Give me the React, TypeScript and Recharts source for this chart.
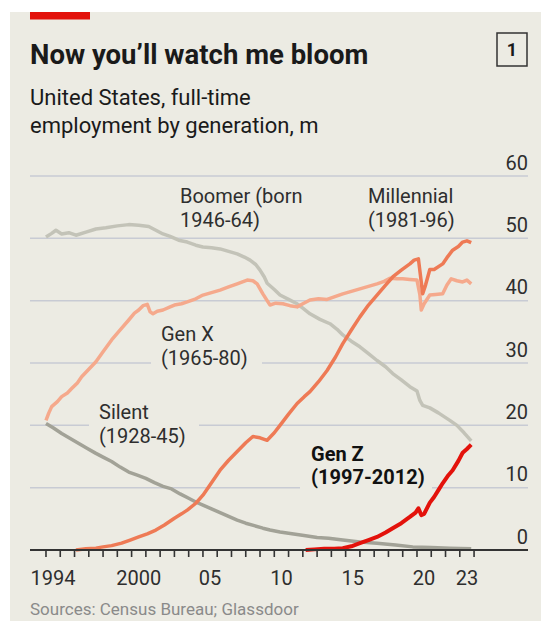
import React from "react";
import { LineChart, Line, XAxis, YAxis, CartesianGrid } from "recharts";

// ---------- data ----------
const boomerYears = [1994.0, 1994.4, 1994.7, 1995.1, 1995.6, 1996.1, 1996.8, 1997.5, 1998.2, 1999.0, 1999.8, 2000.5, 2001.2, 2001.7, 2002.2, 2002.7, 2003.3, 2003.9, 2004.5, 2005.0, 2005.6, 2006.2, 2006.8, 2007.4, 2007.9, 2008.3, 2008.7, 2009.0, 2009.3, 2009.5, 2010.0, 2010.4, 2011.0, 2011.6, 2012.0, 2012.5, 2013.2, 2013.9, 2014.4, 2014.8, 2015.4, 2016.0, 2016.6, 2017.2, 2017.8, 2018.3, 2018.9, 2019.5, 2020.0, 2020.2, 2020.4, 2020.9, 2021.5, 2022.3, 2022.8, 2023.3, 2023.8];
const boomerValues = [50.2, 50.8, 51.3, 50.7, 50.9, 50.5, 51.0, 51.5, 51.7, 52.0, 52.2, 52.1, 51.9, 51.3, 50.7, 50.3, 49.7, 49.4, 48.9, 48.6, 48.5, 48.3, 47.9, 47.5, 47.0, 46.5, 45.8, 44.9, 43.8, 42.8, 41.8, 40.9, 40.2, 39.5, 38.8, 37.9, 37.0, 36.3, 35.4, 34.5, 33.5, 32.6, 31.5, 30.4, 29.4, 28.3, 27.3, 26.2, 25.5, 24.0, 23.2, 22.8, 22.0, 20.8, 20.0, 18.8, 17.5];

const silentYears = [1994.0, 1994.5, 1995.1, 1995.7, 1996.3, 1996.9, 1997.5, 1998.0, 1998.6, 1999.2, 1999.8, 2000.4, 2001.0, 2001.6, 2002.2, 2002.8, 2003.4, 2004.0, 2004.5, 2005.0, 2005.6, 2006.2, 2006.8, 2007.4, 2008.0, 2008.6, 2009.2, 2009.7, 2010.4, 2011.0, 2011.6, 2012.2, 2013.0, 2013.8, 2014.8, 2016.0, 2017.2, 2018.5, 2019.7, 2021.0, 2022.3, 2023.8];
const silentValues = [20.3, 19.6, 18.7, 17.9, 17.1, 16.3, 15.5, 14.9, 14.2, 13.3, 12.5, 12.0, 11.5, 10.8, 10.2, 9.8, 9.0, 8.3, 7.7, 7.2, 6.6, 6.0, 5.4, 4.8, 4.3, 3.9, 3.5, 3.2, 2.9, 2.7, 2.5, 2.3, 2.0, 1.9, 1.6, 1.3, 1.1, 0.8, 0.5, 0.4, 0.3, 0.2];

const genXYears = [1994.0, 1994.2, 1994.4, 1994.8, 1995.1, 1995.5, 1995.8, 1996.2, 1996.5, 1997.0, 1997.5, 1998.0, 1998.6, 1999.2, 1999.8, 2000.2, 2000.5, 2000.8, 2001.1, 2001.3, 2001.5, 2001.8, 2002.2, 2002.7, 2003.0, 2003.5, 2003.9, 2004.5, 2005.0, 2005.6, 2006.2, 2006.8, 2007.4, 2008.1, 2008.5, 2008.8, 2009.0, 2009.2, 2009.5, 2009.7, 2010.1, 2010.6, 2011.1, 2011.6, 2012.0, 2012.5, 2013.1, 2013.7, 2014.2, 2014.8, 2015.4, 2016.0, 2016.6, 2017.2, 2017.7, 2018.1, 2018.6, 2019.0, 2019.5, 2020.0, 2020.2, 2020.3, 2020.5, 2020.9, 2021.3, 2021.8, 2022.1, 2022.4, 2022.8, 2023.2, 2023.5, 2023.8];
const genXValues = [20.8, 22.0, 23.0, 23.8, 24.6, 25.2, 25.9, 26.8, 27.8, 29.0, 30.2, 31.8, 33.7, 35.3, 36.9, 38.0, 38.5, 39.2, 39.4, 38.2, 37.9, 38.3, 38.5, 39.0, 39.3, 39.5, 39.8, 40.3, 40.9, 41.3, 41.7, 42.2, 42.7, 43.3, 43.2, 42.7, 41.9, 41.1, 40.0, 39.3, 39.6, 39.5, 39.2, 39.0, 39.5, 40.1, 40.3, 40.2, 40.6, 41.1, 41.5, 41.9, 42.3, 42.7, 43.1, 43.6, 43.5, 43.5, 43.4, 43.3, 41.0, 38.5, 39.5, 40.9, 41.0, 41.1, 42.5, 43.5, 43.2, 43.0, 43.3, 42.7];

const millennialYears = [1996.1, 1996.8, 1997.5, 1998.0, 1998.6, 1999.3, 1999.9, 2000.5, 2001.1, 2001.7, 2002.3, 2003.0, 2003.5, 2003.9, 2004.5, 2005.0, 2005.6, 2006.2, 2006.8, 2007.4, 2008.0, 2008.5, 2009.0, 2009.5, 2010.0, 2010.4, 2011.0, 2011.6, 2012.1, 2012.5, 2013.1, 2013.7, 2014.3, 2014.8, 2015.4, 2016.0, 2016.6, 2017.2, 2017.8, 2018.3, 2018.9, 2019.5, 2019.8, 2020.1, 2020.3, 2020.4, 2020.6, 2020.9, 2021.2, 2021.8, 2022.1, 2022.5, 2022.9, 2023.2, 2023.5, 2023.8];
const millennialValues = [0.0, 0.2, 0.3, 0.5, 0.7, 1.1, 1.6, 2.1, 2.6, 3.2, 4.0, 5.1, 5.8, 6.4, 7.5, 8.8, 10.8, 12.8, 14.4, 15.8, 17.2, 18.2, 18.0, 17.6, 18.8, 20.0, 21.8, 23.5, 24.6, 25.4, 27.0, 28.8, 31.0, 33.1, 35.3, 37.4, 39.3, 40.9, 42.5, 43.8, 44.9, 45.9, 46.5, 46.7, 43.0, 41.1, 42.5, 45.0, 45.0, 45.9, 46.9, 48.1, 48.7, 49.4, 49.6, 49.3];

const genZYears = [2012.2, 2012.8, 2013.5, 2014.2, 2014.8, 2015.4, 2016.0, 2016.6, 2017.2, 2017.8, 2018.3, 2018.9, 2019.5, 2019.9, 2020.1, 2020.3, 2020.5, 2020.9, 2021.2, 2021.5, 2021.8, 2022.2, 2022.5, 2022.9, 2023.2, 2023.5, 2023.8];
const genZValues = [0.0, 0.1, 0.2, 0.2, 0.3, 0.6, 1.1, 1.6, 2.1, 2.8, 3.5, 4.3, 5.3, 6.0, 6.7, 5.6, 5.8, 7.6, 8.5, 9.6, 10.7, 12.0, 12.8, 14.3, 15.6, 16.2, 16.9];

const yTicks = [0, 10, 20, 30, 40, 50, 60];
const xTickYears = [1994, 1995, 1996, 1997, 1998, 1999, 2000, 2001, 2002, 2003, 2004, 2005, 2006, 2007, 2008, 2009, 2010, 2011, 2012, 2013, 2014, 2015, 2016, 2017, 2018, 2019, 2020, 2021, 2022, 2023, 2024];
const xLabelYears = [1994, 2000, 2005, 2010, 2015, 2020, 2023];
const xLabelTexts = ["1994", "2000", "05", "10", "15", "20", "23"];

const toPoints = (ys: number[], vs: number[]) => ys.map((t, i) => ({ t, v: vs[i] }));
const boomer = toPoints(boomerYears, boomerValues);
const silent = toPoints(silentYears, silentValues);
const genX = toPoints(genXYears, genXValues);
const millennial = toPoints(millennialYears, millennialValues);
const genZ = toPoints(genZYears, genZValues);

// ---------- style ----------
const FONT = "Roboto, 'Noto Sans', sans-serif";
const BG = "#ECEBE3";
const GRID = "#C8CBD4";
const AXIS = "#333333";
const TEXT = "#2E2E2E";

const XTick = (props: any) => {
  const { x, y, payload } = props;
  const idx = xLabelYears.indexOf(payload.value);
  return (
    <g>
      <line x1={x} x2={x} y1={y} y2={y + 7} stroke={AXIS} strokeWidth={1.6} />
      {idx >= 0 && (
        <text x={x + 7.1} y={y + 35} textAnchor="middle" fontFamily={FONT} fontSize={20} fill={TEXT}>
          {xLabelTexts[idx]}
        </text>
      )}
    </g>
  );
};

const YTick = (props: any) => {
  const { x, y, payload } = props;
  return (
    <text x={x} y={y - 6.5} textAnchor="end" fontFamily={FONT} fontSize={20} fill={TEXT}>
      {payload.value}
    </text>
  );
};

export default function App() {
  return (
    <div style={{ position: "absolute", left: 0, top: 0, width: 541, height: 623, background: "#ffffff", overflow: "hidden" }}>
      <div style={{ position: "absolute", left: 10, top: 12, width: 531, height: 609, background: BG }} />
      <div style={{ position: "absolute", left: 0, top: 0 }}>
        <LineChart width={541} height={623} margin={{ top: 176, right: 12, bottom: 33, left: 30 }}>
          <CartesianGrid vertical={false} stroke={GRID} strokeWidth={1.5} />
          <XAxis
            dataKey="t"
            type="number"
            domain={[1992.88, 2027.78]}
            allowDataOverflow
            ticks={xTickYears}
            interval={0}
            tick={<XTick />}
            tickLine={false}
            tickSize={0}
            tickMargin={0}
            axisLine={{ stroke: AXIS, strokeWidth: 2 }}
            height={40}
          />
          <YAxis
            orientation="right"
            width={1}
            type="number"
            domain={[0, 60]}
            ticks={yTicks}
            interval={0}
            tick={<YTick />}
            tickLine={false}
            tickSize={0}
            tickMargin={0}
            axisLine={false}
          />
          <Line data={boomer} dataKey="v" type="linear" dot={false} stroke="#C3C3B8" strokeWidth={3.5} strokeLinejoin="round" isAnimationActive={false} />
          <Line data={silent} dataKey="v" type="linear" dot={false} stroke="#A2A297" strokeWidth={3.5} strokeLinejoin="round" isAnimationActive={false} />
          <Line data={genX} dataKey="v" type="linear" dot={false} stroke="#F5A98C" strokeWidth={3.5} strokeLinejoin="round" isAnimationActive={false} />
          <Line data={millennial} dataKey="v" type="linear" dot={false} stroke="#EE7A55" strokeWidth={3.5} strokeLinejoin="round" isAnimationActive={false} />
          <Line data={genZ} dataKey="v" type="linear" dot={false} stroke="#E3120B" strokeWidth={4} strokeLinejoin="round" isAnimationActive={false} />
        </LineChart>
      </div>
      <svg width={541} height={623} style={{ position: "absolute", left: 0, top: 0, pointerEvents: "none" }}>
        <rect x={30} y={12} width={60} height={7.5} fill="#E3120B" />
        <text x={30} y={63.5} fontFamily={FONT} fontSize={27.5} fontWeight={700} fill="#1A1A1A">
          Now you’ll watch me bloom
        </text>
        <rect x={497} y={33} width={30} height={33} fill="none" stroke="#333" strokeWidth={1.5} />
        <text x={512} y={56} textAnchor="middle" fontFamily={FONT} fontSize={18} fontWeight={700} fill="#1A1A1A">1</text>
        <text x={30} y={105} fontFamily={FONT} fontSize={22} fill="#1A1A1A">United States, full-time</text>
        <text x={30} y={133} fontFamily={FONT} fontSize={22} fill="#1A1A1A">employment by generation, m</text>

        {/* gridline masks behind labels */}
        <rect x={151} y={360} width={111} height={7} fill={BG} />
        <rect x={89} y={422} width={110} height={7} fill={BG} />
        <rect x={300} y={485} width={132} height={7} fill={BG} />

        <g fontFamily={FONT} fontSize={20} fill={TEXT}>
          <text x={180} y={203}>Boomer (born</text>
          <text x={180} y={227}>1946-64)</text>
          <text x={368} y={203}>Millennial</text>
          <text x={368} y={227}>(1981-96)</text>
          <text x={161} y={341}>Gen X</text>
          <text x={161} y={365}>(1965-80)</text>
          <text x={99} y={419}>Silent</text>
          <text x={99} y={443}>(1928-45)</text>
        </g>
        <g fontFamily={FONT} fontSize={20} fontWeight={700} fill="#111">
          <text x={311} y={461}>Gen Z</text>
          <text x={311} y={484}>(1997-2012)</text>
        </g>
        <text x={30} y={615} fontFamily={FONT} fontSize={17} fill="#8A8A8A">Sources: Census Bureau; Glassdoor</text>
      </svg>
    </div>
  );
}
